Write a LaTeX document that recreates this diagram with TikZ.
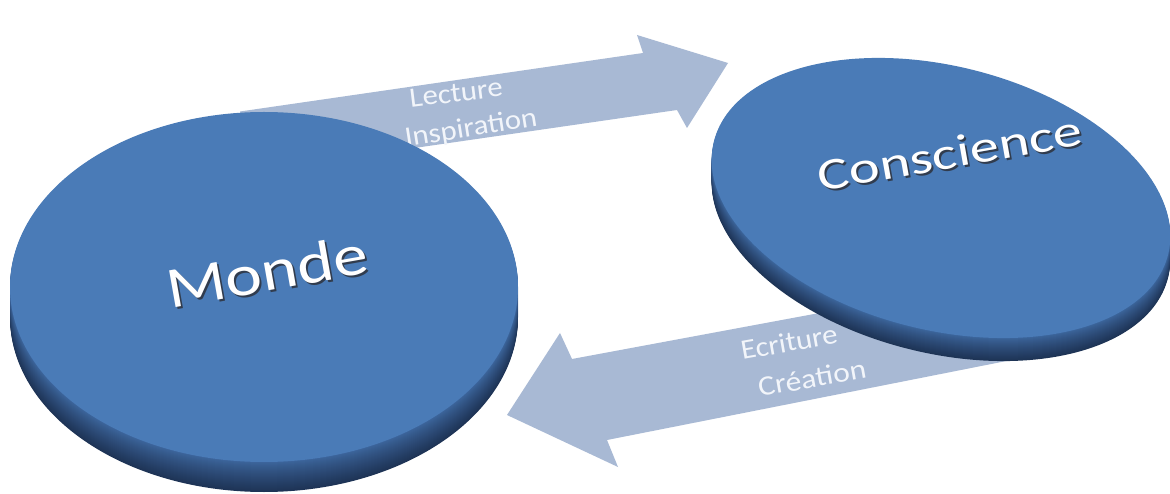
\documentclass[tikz,border=0pt]{standalone}
\usepackage{fontspec}
\setmainfont{Carlito}
\definecolor{face}{RGB}{74,123,183}
\definecolor{sidetop}{RGB}{62,104,160}
\definecolor{sidebot}{RGB}{30,52,86}
\definecolor{arrowfill}{RGB}{168,185,212}
\definecolor{shadowtxt}{RGB}{45,50,60}
\definecolor{arrowtxt}{RGB}{242,245,250}
\tikzset{
  arrowbody/.style={fill=arrowfill, draw=none},
  disclabel/.style={inner sep=0pt, text=white, font=\fontsize{#1}{#1}\selectfont},
  discshadow/.style={inner sep=0pt, text=shadowtxt, opacity=0.85, font=\fontsize{#1}{#1}\selectfont},
  arrowlabel/.style={inner sep=0pt, text=arrowtxt, font=\fontsize{28}{28}\selectfont, rotate=#1}
}
\begin{document}
\begin{tikzpicture}[x=1pt,y=-1pt]
\useasboundingbox (0,0) rectangle (1170,494);
\fill[white] (0,0) rectangle (1170,494);

% ---- upper arrow (Monde -> Conscience)
\coordinate (a1) at (240,111.5);
\coordinate (a2) at (643,53);
\coordinate (a3) at (637,35);
\coordinate (a4) at (728,63);
\coordinate (a5) at (687,128);
\coordinate (a6) at (677,110);
\coordinate (a7) at (290,166);
\coordinate (a8) at (255,175);
\fill[arrowbody] (a1) -- (a2) -- (a3) -- (a4) -- (a5) -- (a6) -- (a7) -- (a8) -- cycle;

% ---- lower arrow (Conscience -> Monde)
\coordinate (b1) at (1052,352);
\coordinate (b2) at (607,440);
\coordinate (b3) at (618,467);
\coordinate (b4) at (507,415);
\coordinate (b5) at (560,333);
\coordinate (b6) at (572,359);
\coordinate (b7) at (1040,272);
\fill[arrowbody] (b1) -- (b2) -- (b3) -- (b4) -- (b5) -- (b6) -- (b7) -- cycle;

% ---- arrow labels
\node[arrowlabel=7] (lecture) at (456,93) {\scalebox{1.1}[1]{Lecture}};
\node[arrowlabel=9] (inspiration) at (471,129) {\scalebox{1.1}[1]{Inspiration}};
\node[arrowlabel=10] (ecriture) at (789,342) {\scalebox{1.1}[1]{Ecriture}};
\node[arrowlabel=10] (creation) at (812,378) {\scalebox{1.13}[1]{Création}};

% ---- Monde disc
\foreach \t in {30,29,...,1} {
  \pgfmathsetmacro\p{100*(\t/30)^0.8}
  \fill[sidebot!\p!sidetop] (264,{287+\t}) ellipse [x radius=254, y radius=175];
}
\fill[face] (264,287) ellipse [x radius=254, y radius=175];

% ---- Conscience disc
\foreach \t in {23,22,...,1} {
  \pgfmathsetmacro\p{100*(\t/23)^0.8}
  \fill[sidebot!\p!sidetop, shift={(941,{198+\t})}, rotate=-14] (0,0) ellipse [x radius=234, y radius=132];
}
\fill[face, shift={(941,198)}, rotate=-14] (0,0) ellipse [x radius=234, y radius=132];

% ---- disc labels
\node[discshadow=58, rotate=10] at (269,273) {\scalebox{1.2}[1]{Monde}};
\node[disclabel=58, rotate=10] (monde) at (267,271) {\scalebox{1.2}[1]{Monde}};
\node[discshadow=45, rotate=10] at (952,155) {\scalebox{1.3}[1]{Conscience}};
\node[disclabel=45, rotate=10] (conscience) at (950,153) {\scalebox{1.3}[1]{Conscience}};
\end{tikzpicture}
\end{document}
